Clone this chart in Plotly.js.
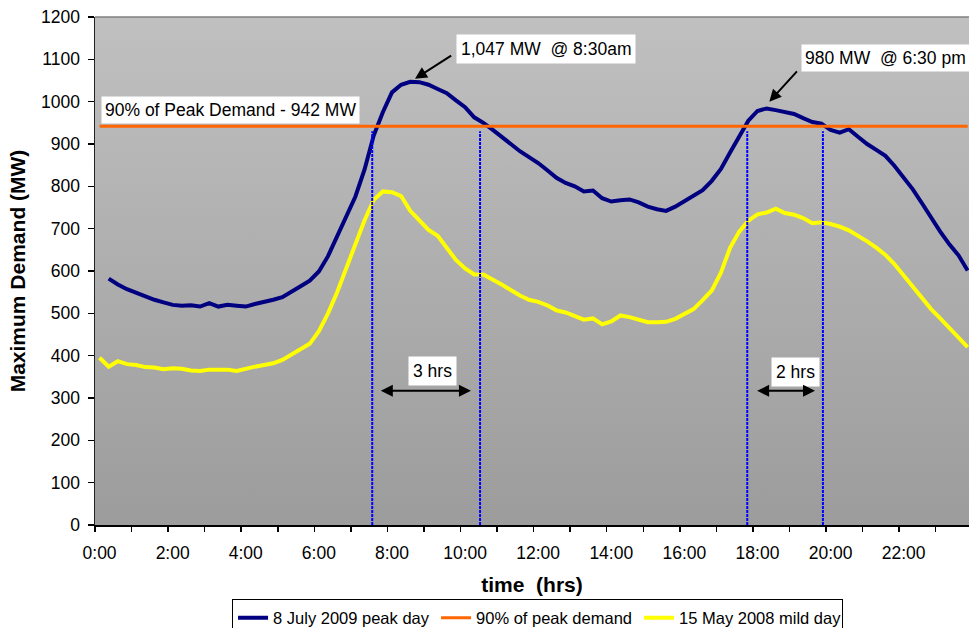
<!DOCTYPE html>
<html>
<head>
<meta charset="utf-8">
<script src="https://cdn.plot.ly/plotly-3.0.1.min.js"></script>
<style>
  html, body { margin: 0; padding: 0; background: #fff; }
  #chart { width: 969px; height: 628px; }
</style>
</head>
<body>
<div id="chart"></div>
<script>
// 15-minute time categories
const timeLabels = [
  "0:00","0:15","0:30","0:45","1:00","1:15","1:30","1:45","2:00","2:15","2:30","2:45",
  "3:00","3:15","3:30","3:45","4:00","4:15","4:30","4:45","5:00","5:15","5:30","5:45",
  "6:00","6:15","6:30","6:45","7:00","7:15","7:30","7:45","8:00","8:15","8:30","8:45",
  "9:00","9:15","9:30","9:45","10:00","10:15","10:30","10:45","11:00","11:15","11:30","11:45",
  "12:00","12:15","12:30","12:45","13:00","13:15","13:30","13:45","14:00","14:15","14:30","14:45",
  "15:00","15:15","15:30","15:45","16:00","16:15","16:30","16:45","17:00","17:15","17:30","17:45",
  "18:00","18:15","18:30","18:45","19:00","19:15","19:30","19:45","20:00","20:15","20:30","20:45",
  "21:00","21:15","21:30","21:45","22:00","22:15","22:30","22:45","23:00","23:15","23:30","23:45"
];

// 8 July 2009 peak day (MW)
const peakDay2009 = [
  null,582,568,557,548,539,532,526,520,518,519,516,
  524,516,520,518,516,522,526,532,538,550,564,577,
  599,635,682,725,776,840,920,975,1022,1040,1047,1046,
  1040,1030,1020,1003,987,963,950,934,916,899,883,869,
  855,838,820,808,800,788,790,772,764,767,769,762,
  752,746,742,752,765,778,791,813,841,880,916,955,
  978,984,980,975,971,961,952,948,933,927,935,917,
  900,886,872,848,822,793,760,726,693,663,637,601
];

// 90% of peak demand (MW)
const ninetyPctPeak = [
  942,942,942,942,942,942,942,942,942,942,942,942,
  942,942,942,942,942,942,942,942,942,942,942,942,
  942,942,942,942,942,942,942,942,942,942,942,942,
  942,942,942,942,942,942,942,942,942,942,942,942,
  942,942,942,942,942,942,942,942,942,942,942,942,
  942,942,942,942,942,942,942,942,942,942,942,942,
  942,942,942,942,942,942,942,942,942,942,942,942,
  942,942,942,942,942,942,942,942,942,942,942,942
];

// 15 May 2008 mild day (MW)
const mildDay2008 = [
  395,374,387,380,378,373,372,368,370,369,365,364,
  367,367,367,364,370,374,378,382,390,402,414,428,
  458,500,550,608,663,720,768,788,786,777,742,719,
  697,683,654,626,606,592,592,581,568,555,542,532,
  527,519,507,502,494,485,488,474,481,495,491,485,
  479,479,480,487,498,510,531,554,596,655,693,719,
  734,738,747,737,733,725,713,715,711,705,696,684,
  670,655,638,616,590,563,535,510,488,465,442,420
];

const seriesNames = ["8 July 2009 peak day", "90% of peak demand", "15 May 2008 mild day"];
const xTickLabels = ["0:00","2:00","4:00","6:00","8:00","10:00","12:00","14:00","16:00","18:00","20:00","22:00"];
const yTickValues = [0,100,200,300,400,500,600,700,800,900,1000,1100,1200];

function toHours(s) { const p = s.split(":"); return Number(p[0]) + Number(p[1]) / 60; }
const xHours = timeLabels.map(toHours);
const xTickVals = xTickLabels.map(toHours);
// category boundaries (tick marks sit between categories, every hour)
const hourBoundaries = [];
for (let h = 0; h < 24; h++) hourBoundaries.push(h - 0.125);

const FONT = "Liberation Sans, Arial, sans-serif";

const traces = [
  { x: xHours, y: peakDay2009, name: seriesNames[0], type: "scatter", mode: "lines",
    line: { color: "#000080", width: 4 }, connectgaps: false },
  { x: xHours, y: ninetyPctPeak, name: seriesNames[1], type: "scatter", mode: "lines",
    line: { color: "#ff6600", width: 3 } },
  { x: xHours, y: mildDay2008, name: seriesNames[2], type: "scatter", mode: "lines",
    line: { color: "#ffff00", width: 4 } }
];

const gradSvg = '<svg xmlns="http://www.w3.org/2000/svg" width="100" height="100" preserveAspectRatio="none">' +
  '<defs><linearGradient id="g" x1="0" y1="0" x2="0" y2="1">' +
  '<stop offset="0" stop-color="#c0c0c0"/><stop offset="1" stop-color="#9c9c9c"/>' +
  '</linearGradient></defs><rect width="100" height="100" fill="url(#g)"/></svg>';
const gradUri = "data:image/svg+xml;charset=utf-8," + encodeURIComponent(gradSvg);

const vline = (xv) => ({ type: "line", xref: "x", yref: "y", x0: xv, x1: xv, y0: 0, y1: 930,
  line: { color: "#0000ff", width: 2, dash: "3px,1px" }, layer: "above" });

const boxFont = { family: FONT, size: 17.5, color: "#000" };

const layout = {
  width: 969, height: 628,
  margin: { l: 95, r: 0, t: 17, b: 103, autoexpand: false },
  paper_bgcolor: "#ffffff",
  plot_bgcolor: "rgba(0,0,0,0)",
  font: { family: FONT, size: 17.5, color: "#000" },
  showlegend: true,
  legend: {
    orientation: "h", x: 0.1568, xanchor: "left", y: -0.1466, yanchor: "top",
    bgcolor: "#ffffff", bordercolor: "#000", borderwidth: 1,
    font: { family: FONT, size: 16.5, color: "#000" },
    entrywidth: 158, entrywidthmode: "pixels", itemwidth: 30, traceorder: "normal"
  },
  xaxis: {
    type: "linear", range: [-0.125, 23.787], fixedrange: true,
    tickmode: "array", tickvals: xTickVals, ticktext: xTickLabels,
    ticks: "outside", ticklen: 5, tickcolor: "rgba(0,0,0,0)", ticklabelstandoff: 6,
    minor: { tickmode: "array", tickvals: hourBoundaries, ticks: "outside", ticklen: 5, tickwidth: 1.5, tickcolor: "#000", showgrid: false },
    showgrid: false, zeroline: false,
    showline: true, linecolor: "#000", linewidth: 1.5,
    tickfont: { family: FONT, size: 17.5, color: "#000" },
    title: { text: "time\u00a0 (hrs)", font: { family: FONT, size: 21, color: "#000", weight: "bold" }, standoff: 16 }
  },
  yaxis: {
    range: [0, 1200], fixedrange: true,
    tickmode: "array", tickvals: yTickValues,
    ticks: "outside", ticklen: 6, tickwidth: 1.5, tickcolor: "#000", ticklabelstandoff: 4,
    showgrid: false, zeroline: false,
    showline: true, linecolor: "#222", linewidth: 1.5,
    tickfont: { family: FONT, size: 17.5, color: "#000" },
    title: { text: "Maximum Demand (MW)", font: { family: FONT, size: 21, color: "#000", weight: "bold" }, standoff: 9 }
  },
  images: [{
    source: gradUri, xref: "paper", yref: "paper", x: 0, y: 1, sizex: 1, sizey: 1,
    xanchor: "left", yanchor: "top", sizing: "stretch", layer: "below"
  }],
  shapes: [
    { type: "line", xref: "paper", yref: "paper", x0: 0, x1: 1, y0: 1, y1: 1,
      line: { color: "#808080", width: 1.5 } },
    vline(7.46), vline(10.41), vline(17.72), vline(19.79)
  ],
  annotations: [
    { xref: "x", yref: "y", x: 0.05, y: 981, xanchor: "left", yanchor: "middle",
      text: "90% of Peak Demand - 942 MW", showarrow: false, bgcolor: "#ffffff", borderpad: 3, font: boxFont },
    { xref: "x", yref: "y", x: 12.214, y: 1124, xanchor: "center", yanchor: "middle",
      text: "1,047 MW\u00a0 @ 8:30am", showarrow: false, bgcolor: "#ffffff", borderpad: 4, font: boxFont },
    { xref: "x", yref: "y", x: 19.2, y: 1104, xanchor: "left", yanchor: "middle",
      text: "980 MW\u00a0 @ 6:30 pm", showarrow: false, bgcolor: "#ffffff", borderpad: 3, font: boxFont },
    { xref: "x", yref: "y", x: 9.118, y: 363, xanchor: "center", yanchor: "middle",
      text: "3 hrs", showarrow: false, bgcolor: "#ffffff", borderpad: 4, font: boxFont },
    { xref: "x", yref: "y", x: 19.05, y: 362, xanchor: "center", yanchor: "middle",
      text: "2 hrs", showarrow: false, bgcolor: "#ffffff", borderpad: 4, font: boxFont },
    // pointer arrows
    { xref: "x", yref: "y", x: 8.63, y: 1054, axref: "x", ayref: "y", ax: 9.66, ay: 1111,
      text: "", showarrow: true, arrowhead: 2, arrowsize: 1.2, arrowwidth: 2, arrowcolor: "#000" },
    { xref: "x", yref: "y", x: 18.324, y: 1000, axref: "x", ayref: "y", ax: 19.117, ay: 1075,
      text: "", showarrow: true, arrowhead: 2, arrowsize: 1.2, arrowwidth: 2, arrowcolor: "#000" },
    // double arrows
    { xref: "x", yref: "y", x: 10.161, y: 317, axref: "x", ayref: "y", ax: 7.653, ay: 317,
      text: "", showarrow: true, arrowside: "end+start", arrowhead: 2, startarrowhead: 2,
      arrowsize: 1.2, startarrowsize: 1.2, arrowwidth: 2, arrowcolor: "#000" },
    { xref: "x", yref: "y", x: 19.573, y: 317, axref: "x", ayref: "y", ax: 17.95, ay: 317,
      text: "", showarrow: true, arrowside: "end+start", arrowhead: 2, startarrowhead: 2,
      arrowsize: 1.2, startarrowsize: 1.2, arrowwidth: 2, arrowcolor: "#000" }
  ]
};

Plotly.newPlot("chart", traces, layout, { staticPlot: true, displayModeBar: false });
</script>
</body>
</html>
